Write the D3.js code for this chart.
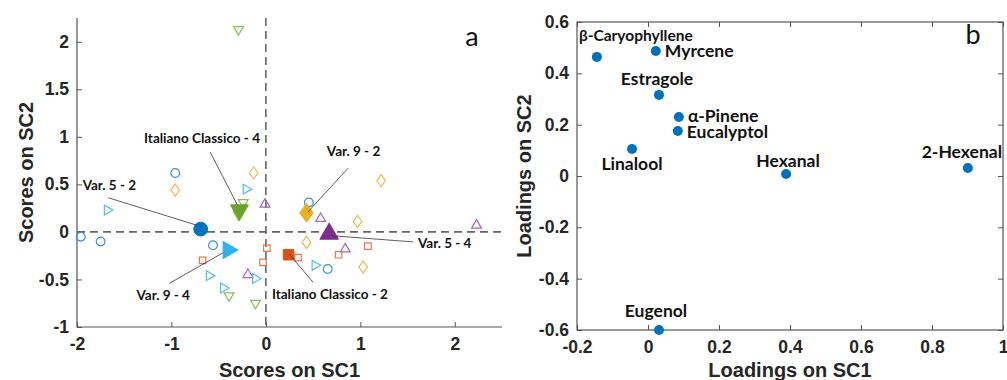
<!DOCTYPE html>
<html><head><meta charset="utf-8">
<script src="https://cdn.jsdelivr.net/npm/d3@7"></script>
<style>
body{margin:0;background:#fff;}
svg{display:block;}
.tick-lab{font-family:"Liberation Sans",Arial,sans-serif;font-weight:bold;font-size:17.5px;fill:#262626;}
.ax-title{font-family:"Liberation Sans",Arial,sans-serif;font-weight:bold;font-size:20px;fill:#262626;}
.ann{font-family:Lato,"Open Sans",sans-serif;font-weight:bold;font-size:13.5px;fill:#111;}
.lab{font-family:Lato,"Open Sans",sans-serif;font-weight:bold;font-size:17.5px;fill:#111;}
.panel{font-family:Lato,"Open Sans",sans-serif;font-size:27px;fill:#111;}
</style>
</head><body>
<svg id="chart" width="1007" height="380"></svg>
<script>
// ---------- Panel a: scores ----------
const scoreXTicks = [-2, -1, 0, 1, 2];
const scoreYTicks = [-1, -0.5, 0, 0.5, 1, 1.5, 2];
const groupNames = ["Var. 5 - 2", "Italiano Classico - 4", "Var. 9 - 2", "Var. 5 - 4", "Var. 9 - 4", "Italiano Classico - 2"];
// hollow replicate points per group [SC1, SC2]
const blueCircles   = [[-0.96, 0.62], [-1.96, -0.05], [-1.75, -0.10], [-0.56, -0.14], [0.455, 0.31], [0.655, -0.39]];
const greenDown     = [[-0.29, 2.13], [-0.24, 0.31], [-0.29, 0.18], [-0.39, -0.67], [-0.11, -0.75]];
const orangeDiamond = [[-0.96, 0.44], [-0.13, 0.62], [1.22, 0.54], [0.97, 0.11], [0.43, -0.11], [1.03, -0.37]];
const purpleUp      = [[-0.01, 0.29], [-0.19, -0.45], [0.58, 0.14], [0.84, -0.18], [2.23, 0.07]];
const cyanRight     = [[-1.68, 0.23], [-0.21, 0.45], [-0.60, -0.46], [-0.45, -0.59], [-0.11, -0.49], [0.52, -0.35]];
const redSquares    = [[0.01, -0.17], [-0.03, -0.32], [-0.67, -0.30], [0.34, -0.27], [0.77, -0.24], [1.08, -0.15]];
// group means (filled markers)
const meanSC1 = [-0.69, -0.28, 0.43, 0.67, -0.40, 0.24];
const meanSC2 = [0.03, 0.23, 0.20, -0.02, -0.19, -0.24];

// ---------- Panel b: loadings ----------
const loadXTicks = [-0.2, 0, 0.2, 0.4, 0.6, 0.8, 1];
const loadYTicks = [-0.6, -0.4, -0.2, 0, 0.2, 0.4, 0.6];
const compounds = ["β-Caryophyllene", "Myrcene", "Estragole", "α-Pinene", "Eucalyptol", "Linalool", "Hexanal", "2-Hexenal", "Eugenol"];
const loadSC1 = [-0.144, 0.022, 0.031, 0.087, 0.084, -0.045, 0.389, 0.901, 0.031];
const loadSC2 = [0.464, 0.487, 0.316, 0.230, 0.175, 0.105, 0.008, 0.031, -0.600];

// ---------- layout / style (not data) ----------
const svg = d3.select("#chart");
const A = {l: 77, r: 502, t: 18, b: 327};
const B = {l: 577, r: 1003, t: 22, b: 330};
const xa = d3.scaleLinear().domain([-2, 2.5]).range([A.l, A.r]);
const ya = d3.scaleLinear().domain([-1, 2.25]).range([A.b, A.t]);
const xb = d3.scaleLinear().domain([-0.2, 1]).range([B.l, B.r]);
const yb = d3.scaleLinear().domain([-0.6, 0.6]).range([B.b, B.t]);
const axisCol = "#555";
const fmt = d => String(d);

function drawAxes(g, xs, ys, box, xt, yt, full) {
  const tl = 5;
  const bx = d3.axisBottom(xs).tickValues(xt).tickSize(-tl).tickPadding(14).tickFormat(fmt);
  const gb = g.append("g").attr("transform", `translate(0,${box.b})`).call(bx);
  const ly = d3.axisLeft(ys).tickValues(yt).tickSize(-tl).tickPadding(8).tickFormat(fmt);
  const gl = g.append("g").attr("transform", `translate(${box.l},0)`).call(ly);
  [gb, gl].forEach(s => {
    s.select(".domain").remove();
    s.selectAll(".tick line").attr("stroke", axisCol);
    s.selectAll(".tick text").attr("class", "tick-lab").attr("fill", null);
  });
  gb.selectAll(".tick text").attr("dy", "0.71em").attr("y", 11);
  if (full) {
    const tx = d3.axisTop(xs).tickValues(xt).tickSize(-tl).tickFormat("");
    const gt = g.append("g").attr("transform", `translate(0,${box.t})`).call(tx);
    const ry = d3.axisRight(ys).tickValues(yt).tickSize(-tl).tickFormat("");
    const gr = g.append("g").attr("transform", `translate(${box.r},0)`).call(ry);
    [gt, gr].forEach(s => { s.select(".domain").remove(); s.selectAll(".tick line").attr("stroke", axisCol); });
    g.append("rect").attr("x", box.l).attr("y", box.t).attr("width", box.r - box.l).attr("height", box.b - box.t)
      .attr("fill", "none").attr("stroke", axisCol).attr("stroke-width", 1.2);
  } else {
    g.append("path").attr("d", `M${box.l},${box.t}V${box.b}H${box.r}`).attr("fill", "none")
      .attr("stroke", axisCol).attr("stroke-width", 1.2);
  }
}

// ===== Panel a =====
const ga = svg.append("g");
drawAxes(ga, xa, ya, A, scoreXTicks, scoreYTicks, false);
ga.append("line").attr("x1", xa(0)).attr("x2", xa(0)).attr("y1", A.t).attr("y2", A.b)
  .attr("stroke", "#666").attr("stroke-width", 1.6).attr("stroke-dasharray", "8,5");
ga.append("line").attr("x1", A.l).attr("x2", A.r).attr("y1", ya(0)).attr("y2", ya(0))
  .attr("stroke", "#666").attr("stroke-width", 1.6).attr("stroke-dasharray", "8,5");

const diamondType = {
  draw(ctx, size) {
    const h = Math.sqrt(size) * 0.72, w = h * 0.72;
    ctx.moveTo(0, -h); ctx.lineTo(w, 0); ctx.lineTo(0, h); ctx.lineTo(-w, 0); ctx.closePath();
  }
};
const groupStyle = [
  {pts: blueCircles,   type: d3.symbolCircle,   rot: 0,   hollow: "#3f8fd6", fill: "#0072BD", hs: 60,  fs: 150},
  {pts: greenDown,     type: d3.symbolTriangle, rot: 180, hollow: "#8cbf50", fill: "#6aa52a", hs: 42,  fs: 140},
  {pts: orangeDiamond, type: diamondType,       rot: 0,   hollow: "#f0bc50", fill: "#EDB120", hs: 70,  fs: 170},
  {pts: purpleUp,      type: d3.symbolTriangle, rot: 0,   hollow: "#a865be", fill: "#7E2F8E", hs: 42,  fs: 150},
  {pts: cyanRight,     type: d3.symbolTriangle, rot: 90,  hollow: "#4DBEEE", fill: "#2fb2ec", hs: 42,  fs: 130},
  {pts: redSquares,    type: d3.symbolSquare,   rot: 0,   hollow: "#e8794a", fill: "#D95319", hs: 42,  fs: 110}
];

groupStyle.forEach(gs => {
  ga.append("g").selectAll("path").data(gs.pts).join("path")
    .attr("d", d3.symbol().type(gs.type).size(gs.hs))
    .attr("transform", d => `translate(${xa(d[0])},${ya(d[1])}) rotate(${gs.rot})`)
    .attr("fill", "none").attr("stroke", gs.hollow).attr("stroke-width", 1.2);
});
ga.append("g").selectAll("path").data(groupNames).join("path")
  .attr("d", (d, i) => d3.symbol().type(groupStyle[i].type).size(groupStyle[i].fs)())
  .attr("transform", (d, i) => `translate(${xa(meanSC1[i])},${ya(meanSC2[i])}) rotate(${groupStyle[i].rot})`)
  .attr("fill", (d, i) => groupStyle[i].fill).attr("stroke", (d, i) => groupStyle[i].fill).attr("stroke-width", 1);

// annotations: text start position and leader line, in data coordinates
const annLayout = [
  {tx: -1.94, ty: 0.49, x1: -1.67, y1: 0.36, x2: -0.73, y2: 0.07},
  {tx: -1.29, ty: 0.99, x1: -0.59, y1: 0.84, x2: -0.30, y2: 0.28},
  {tx: 0.645, ty: 0.85, x1: 0.87, y1: 0.67, x2: 0.445, y2: 0.21},
  {tx: 1.61, ty: -0.12, x1: 0.70, y1: -0.04, x2: 1.56, y2: -0.105},
  {tx: -1.37, ty: -0.67, x1: -1.02, y1: -0.54, x2: -0.455, y2: -0.22},
  {tx: 0.064, ty: -0.66, x1: 0.245, y1: -0.23, x2: 0.50, y2: -0.53}
];
ga.append("g").selectAll("line").data(annLayout).join("line")
  .attr("x1", d => xa(d.x1)).attr("y1", d => ya(d.y1)).attr("x2", d => xa(d.x2)).attr("y2", d => ya(d.y2))
  .attr("stroke", "#333").attr("stroke-width", 0.8);
ga.append("g").selectAll("text").data(annLayout).join("text").attr("class", "ann")
  .attr("x", d => xa(d.tx)).attr("y", d => ya(d.ty)).attr("dy", "0.35em")
  .text((d, i) => groupNames[i]);

ga.append("text").attr("class", "ax-title").attr("x", (A.l + A.r) / 2).attr("y", 377)
  .attr("text-anchor", "middle").text("Scores on SC1");
ga.append("text").attr("class", "ax-title").attr("transform", `translate(33,${(A.t + A.b) / 2}) rotate(-90)`)
  .attr("text-anchor", "middle").text("Scores on SC2");
ga.append("text").attr("class", "panel").attr("x", 472).attr("y", 46).attr("text-anchor", "middle").text("a");

// ===== Panel b =====
const gb = svg.append("g");
drawAxes(gb, xb, yb, B, loadXTicks, loadYTicks, true);
gb.append("g").selectAll("circle").data(compounds).join("circle")
  .attr("cx", (d, i) => xb(loadSC1[i])).attr("cy", (d, i) => yb(loadSC2[i])).attr("r", 5)
  .attr("fill", "#0072BD");
const labLayout = [
  {dx: -18, dy: -21, a: "start", fs: 15.5},
  {dx: 9, dy: 0, a: "start"},
  {dx: -2, dy: -16, a: "middle"},
  {dx: 9, dy: -1.5, a: "start"},
  {dx: 9, dy: 1, a: "start"},
  {dx: 0, dy: 15, a: "middle"},
  {dx: 2, dy: -13, a: "middle"},
  {dx: -6, dy: -16, a: "middle"},
  {dx: -3, dy: -19, a: "middle"}
];
gb.append("g").selectAll("text").data(compounds).join("text").attr("class", "lab")
  .attr("x", (d, i) => xb(loadSC1[i]) + labLayout[i].dx)
  .attr("y", (d, i) => yb(loadSC2[i]) + labLayout[i].dy)
  .attr("dy", "0.35em").attr("text-anchor", (d, i) => labLayout[i].a)
  .style("font-size", (d, i) => labLayout[i].fs ? labLayout[i].fs + "px" : null)
  .text(d => d);
gb.append("text").attr("class", "ax-title").attr("x", (B.l + B.r) / 2).attr("y", 377)
  .attr("text-anchor", "middle").text("Loadings on SC1");
gb.append("text").attr("class", "ax-title").attr("transform", `translate(531,${(B.t + B.b) / 2}) rotate(-90)`)
  .attr("text-anchor", "middle").text("Loadings on SC2");
gb.append("text").attr("class", "panel").attr("x", 973).attr("y", 44).attr("text-anchor", "middle").text("b");
</script>
</body></html>
